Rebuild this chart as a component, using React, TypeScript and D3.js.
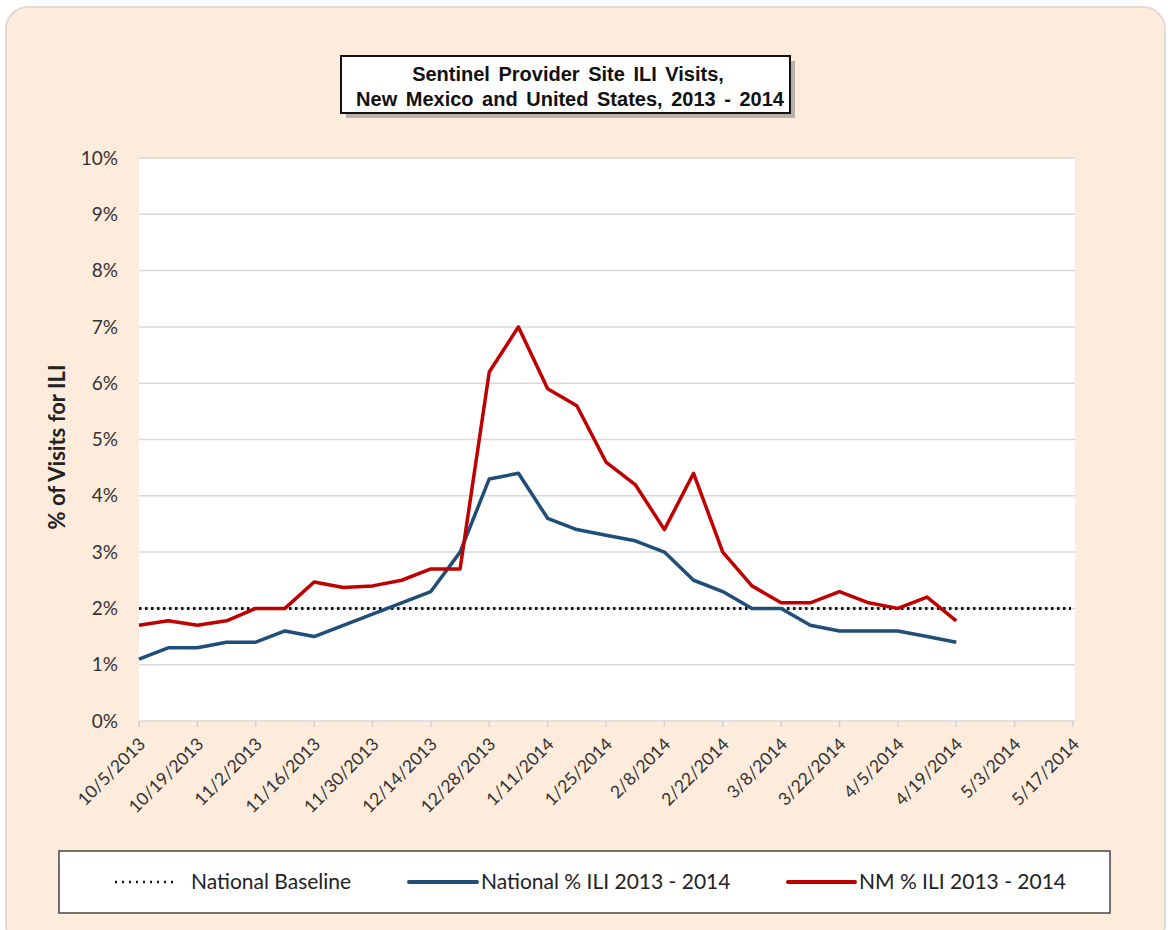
import React from 'react';
import * as d3 from 'd3';

// weekly categories on the x axis (week ending)
const weeks = [
  '10/5/2013', '10/12/2013', '10/19/2013', '10/26/2013', '11/2/2013', '11/9/2013',
  '11/16/2013', '11/23/2013', '11/30/2013', '12/7/2013', '12/14/2013', '12/21/2013',
  '12/28/2013', '1/4/2014', '1/11/2014', '1/18/2014', '1/25/2014', '2/1/2014',
  '2/8/2014', '2/15/2014', '2/22/2014', '3/1/2014', '3/8/2014', '3/15/2014',
  '3/22/2014', '3/29/2014', '4/5/2014', '4/12/2014', '4/19/2014', '4/26/2014',
  '5/3/2014', '5/10/2014', '5/17/2014',
];

// % ILI values (percent)
const nationalIli = [
  1.1, 1.3, 1.3, 1.4, 1.4, 1.6, 1.5, 1.7, 1.9, 2.1, 2.3, 3.0, 4.3, 4.4, 3.6, 3.4,
  3.3, 3.2, 3.0, 2.5, 2.3, 2.0, 2.0, 1.7, 1.6, 1.6, 1.6, 1.5, 1.4,
];
const nmIli = [
  1.7, 1.78, 1.7, 1.78, 2.0, 2.0, 2.47, 2.37, 2.4, 2.5, 2.7, 2.7, 6.2, 7.0, 5.9, 5.6,
  4.6, 4.2, 3.4, 4.4, 3.0, 2.4, 2.1, 2.1, 2.3, 2.1, 2.0, 2.2, 1.78,
];
const nationalBaseline = 2.0;

const yTicks = [0, 1, 2, 3, 4, 5, 6, 7, 8, 9, 10];

const legendItems = [
  { label: 'National Baseline', color: '#111', dotted: true, x1: 115, x2: 178 },
  { label: 'National % ILI 2013 - 2014', color: '#1F4E79', dotted: false, x1: 409, x2: 477 },
  { label: 'NM % ILI 2013 - 2014', color: '#C00000', dotted: false, x1: 788, x2: 855 },
];

const PLOT = { left: 139, right: 1075, top: 158, bottom: 721 };
const labelFont = 'Lato, "Open Sans", sans-serif';
const titleFont = '"Liberation Sans", Arial, sans-serif';

export default function App() {
  const x = d3.scalePoint<string>().domain(weeks).range([PLOT.left, PLOT.right - 2]);
  const y = d3.scaleLinear().domain([0, 10]).range([PLOT.bottom, PLOT.top]);
  const fmt = (v: number) => `${v}%`;

  const line = d3
    .line<number>()
    .x((_, i) => x(weeks[i]) as number)
    .y((d) => y(d));

  const labelWeeks = weeks.filter((_, i) => i % 2 === 0);

  return (
    <svg
      width={1168}
      height={930}
      style={{ position: 'absolute', left: 0, top: 0, background: '#fff' }}
    >
      {/* outer panel */}
      <rect x={6} y={7} width={1159} height={940} rx={22} fill="#FDEBDC" stroke="#E3DBD3" strokeWidth={2} />

      {/* plot area */}
      <rect x={PLOT.left} y={PLOT.top} width={PLOT.right - PLOT.left} height={PLOT.bottom - PLOT.top} fill="#fff" />

      {/* gridlines */}
      {yTicks.map((t) => (
        <line
          key={t}
          x1={PLOT.left}
          x2={PLOT.right}
          y1={y(t)}
          y2={y(t)}
          stroke="#D9D9D9"
          strokeWidth={1.5}
        />
      ))}
      {/* x ticks */}
      {labelWeeks.map((w) => (
        <line key={w} x1={x(w)} x2={x(w)} y1={PLOT.bottom} y2={PLOT.bottom + 6} stroke="#D0D0D0" strokeWidth={1.5} />
      ))}

      {/* y tick labels */}
      {yTicks.map((t) => (
        <text
          key={t}
          x={118}
          y={y(t)}
          dy="0.35em"
          textAnchor="end"
          fontFamily={labelFont}
          fontSize={19}
          fill="#333"
        >
          {fmt(t)}
        </text>
      ))}

      {/* x tick labels */}
      {labelWeeks.map((w) => (
        <text
          key={w}
          transform={`translate(${(x(w) as number) + 3},${741}) rotate(-45)`}
          dy="0.35em"
          textAnchor="end"
          fontFamily={labelFont}
          fontSize={17.5}
          fill="#333"
        >
          {w}
        </text>
      ))}

      {/* y axis title */}
      <text
        transform={`translate(65,447) rotate(-90)`}
        textAnchor="middle"
        fontFamily={labelFont}
        fontWeight="bold"
        fontSize={22}
        fill="#222"
      >
        % of Visits for ILI
      </text>

      {/* baseline */}
      <line
        x1={PLOT.left}
        x2={PLOT.right - 4}
        y1={y(nationalBaseline)}
        y2={y(nationalBaseline)}
        stroke="#111"
        strokeWidth={3}
        strokeDasharray="2.5 3.5"
      />

      {/* series */}
      <path d={line(nationalIli) || ''} fill="none" stroke="#1F4E79" strokeWidth={3.5} strokeLinejoin="round" />
      <path d={line(nmIli) || ''} fill="none" stroke="#C00000" strokeWidth={3.5} strokeLinejoin="round" />

      {/* title box */}
      <rect x={346} y={61} width={449} height={57} fill="#9a9a9a" opacity={0.7} />
      <rect x={341} y={56} width={449} height={57} fill="#fff" stroke="#111" strokeWidth={2} />
      <text
        x={568}
        y={81}
        textAnchor="middle"
        fontFamily={titleFont}
        fontWeight="bold"
        fontSize={20}
        wordSpacing={3}
        fill="#111"
      >
        Sentinel Provider Site ILI Visits,
      </text>
      <text
        x={570}
        y={106}
        textAnchor="middle"
        fontFamily={titleFont}
        fontWeight="bold"
        fontSize={20}
        wordSpacing={3}
        fill="#111"
      >
        New Mexico and United States, 2013 - 2014
      </text>

      {/* legend */}
      <rect x={59} y={851} width={1051} height={62} fill="#fff" stroke="#444" strokeWidth={1.5} />
      {legendItems.map((it) => (
        <g key={it.label}>
          <line
            x1={it.x1}
            x2={it.x2}
            y1={882}
            y2={882}
            stroke={it.color}
            strokeWidth={it.dotted ? 2.5 : 4}
            strokeDasharray={it.dotted ? '2 5' : undefined}
            strokeLinecap={it.dotted ? 'butt' : 'round'}
          />
          <text
            x={it.x2 + (it.dotted ? 13 : 4)}
            y={882}
            dy="0.35em"
            fontFamily={labelFont}
            fontSize={21}
            fill="#222"
          >
            {it.label}
          </text>
        </g>
      ))}
    </svg>
  );
}
